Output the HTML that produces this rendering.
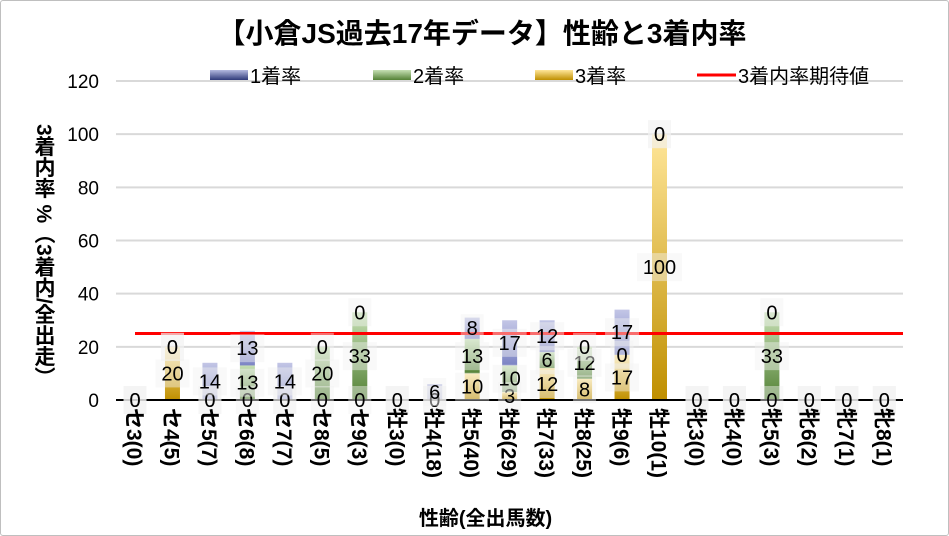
<!DOCTYPE html>
<html><head><meta charset="utf-8">
<style>
html,body{margin:0;padding:0;background:#fff;}
body{width:949px;height:536px;overflow:hidden;font-family:"Liberation Sans","Noto Sans CJK JP",sans-serif;}
#frame{position:absolute;left:0;top:0;width:947px;height:534px;border:1px solid #bfbfbf;border-radius:3px;}
.xl{position:absolute;top:408px;writing-mode:vertical-rl;text-orientation:sideways;font-size:21px;font-weight:bold;color:#000;white-space:nowrap;transform:translateX(-50%);}
</style></head><body>
<div id="frame"></div>
<svg id="chart" width="949" height="536" style="position:absolute;left:0;top:0" xmlns="http://www.w3.org/2000/svg">
<defs>
<linearGradient id="gBlue" x1="0" y1="0" x2="0" y2="1"><stop offset="0" stop-color="#c3c6e6"/><stop offset="1" stop-color="#7c84c4"/></linearGradient>
<linearGradient id="gGreen" x1="0" y1="0" x2="0" y2="1"><stop offset="0" stop-color="#c6e0b4"/><stop offset="1" stop-color="#538135"/></linearGradient>
<linearGradient id="gGold" x1="0" y1="0" x2="0" y2="1"><stop offset="0" stop-color="#ffe699"/><stop offset="1" stop-color="#bf8f00"/></linearGradient>
<linearGradient id="lBlue" x1="0" y1="0" x2="0" y2="1"><stop offset="0" stop-color="#b4b9e0"/><stop offset="1" stop-color="#2f3a7a"/></linearGradient>
</defs>
<text x="482" y="43" text-anchor="middle" font-size="28" font-weight="bold" font-family="Liberation Sans, Noto Sans CJK JP, sans-serif">【小倉JS過去17年データ】性齢と3着内率</text>
<g id="grid"></g>
<g font-size="20" font-family="Liberation Sans, Noto Sans CJK JP, sans-serif">
<g><rect x="210" y="70" width="38" height="10" fill="url(#lBlue)"/><text x="250" y="83">1着率</text></g>
<g><rect x="373" y="70" width="38" height="10" fill="url(#gGreen)"/><text x="413" y="83">2着率</text></g>
<g><rect x="535" y="70" width="38" height="10" fill="url(#gGold)"/><text x="575" y="83">3着率</text></g>
<g><line x1="697" y1="75" x2="736" y2="75" stroke="#ff0000" stroke-width="3"/><text x="738" y="83">3着内率期待値</text></g>
</g>
<g id="bars"></g>
<g id="labels"></g>
</svg>
<div style="position:absolute;left:28px;top:124px;writing-mode:vertical-rl;font-size:21px;font-weight:bold;white-space:nowrap">3着内率 %（3着内/全出走）</div>
<div style="position:absolute;left:0;width:949px;top:502px;text-align:center;font-size:20px;font-weight:bold;padding-left:22px;box-sizing:border-box">性齢(全出馬数)</div>
<div id="xlabels"></div>
<script>
const categories=["セ3(0)","セ4(5)","セ5(7)","セ6(8)","セ7(7)","セ8(5)","セ9(3)","牡3(0)","牡4(18)","牡5(40)","牡6(29)","牡7(33)","牡8(25)","牡9(6)","牡10(1)","牝3(0)","牝4(0)","牝5(3)","牝6(2)","牝7(1)","牝8(1)"];
const rate1=[0,0,14,13,14,0,0,0,6,8,17,12,0,17,0,0,0,0,0,0,0];
const rate2=[0,0,0,13,0,20,33,0,0,13,10,6,12,0,0,0,0,33,0,0,0];
const rate3=[0,20,0,0,0,0,0,0,0,10,3,12,8,17,100,0,0,0,0,0,0];
const expected=25;
const yTicks=[0,20,40,60,80,100,120];

const NS="http://www.w3.org/2000/svg";
const plotL=116,plotR=903,y0=400,yTop=81,yMax=120;
const y=v=>y0-(y0-yTop)*v/yMax;
const xc=i=>135+(659.5-135)/14*i;
const bw=15;
function mk(tag,attrs,parent){const e=document.createElementNS(NS,tag);for(const k in attrs)e.setAttribute(k,attrs[k]);parent.appendChild(e);return e;}
const grid=document.getElementById('grid'),bars=document.getElementById('bars'),labels=document.getElementById('labels');
yTicks.forEach(t=>{
  if(t>0){const l=mk('line',{x1:plotL,x2:plotR,y1:y(t),y2:y(t),stroke:'#d9d9d9','stroke-width':2},grid);
  
  }
  const tx=mk('text',{x:99,y:y(t)+7,'text-anchor':'end','font-size':19,'font-family':'Liberation Sans, sans-serif'},grid);
  tx.textContent=t;
  
  
});
const series=[{d:rate3,f:'url(#gGold)',n:'3rd'},{d:rate2,f:'url(#gGreen)',n:'2nd'},{d:rate1,f:'url(#gBlue)',n:'1st'}];
const labs=[];
categories.forEach((c,i)=>{
  let cum=0;
  series.forEach(s=>{
    const v=s.d[i];
    if(v>0){const r=mk('rect',{x:xc(i)-bw/2,y:y(cum+v),width:bw,height:y(cum)-y(cum+v),fill:s.f},bars);
    
    }
    labs.push({x:xc(i),y:y(cum+v/2),v:v,n:s.n,i:i});
    cum+=v;
  });
});
const axis=mk('line',{x1:plotL,x2:plotR,y1:y0,y2:y0,stroke:'#000','stroke-width':2},bars);


const red=mk('line',{x1:xc(0),x2:plotR,y1:y(expected),y2:y(expected),stroke:'#ff0000','stroke-width':3},bars);


labs.forEach(l=>{
  const w=String(l.v).length*11+12;
  const bg=mk('rect',{x:l.x-w/2,y:l.y-14,width:w,height:28,fill:'#f2f2f2','fill-opacity':0.45},labels);
  
  
  const t=mk('text',{x:l.x,y:l.y+7,'text-anchor':'middle','font-size':20,'font-family':'Liberation Sans, sans-serif'},labels);
  t.textContent=l.v;
  
  
});
const xl=document.getElementById('xlabels');
categories.forEach((c,i)=>{
  const d=document.createElement('div');
  d.className='xl';d.style.left=xc(i)+'px';d.textContent=c;
  
  
  xl.appendChild(d);
});
</script>
</body></html>
